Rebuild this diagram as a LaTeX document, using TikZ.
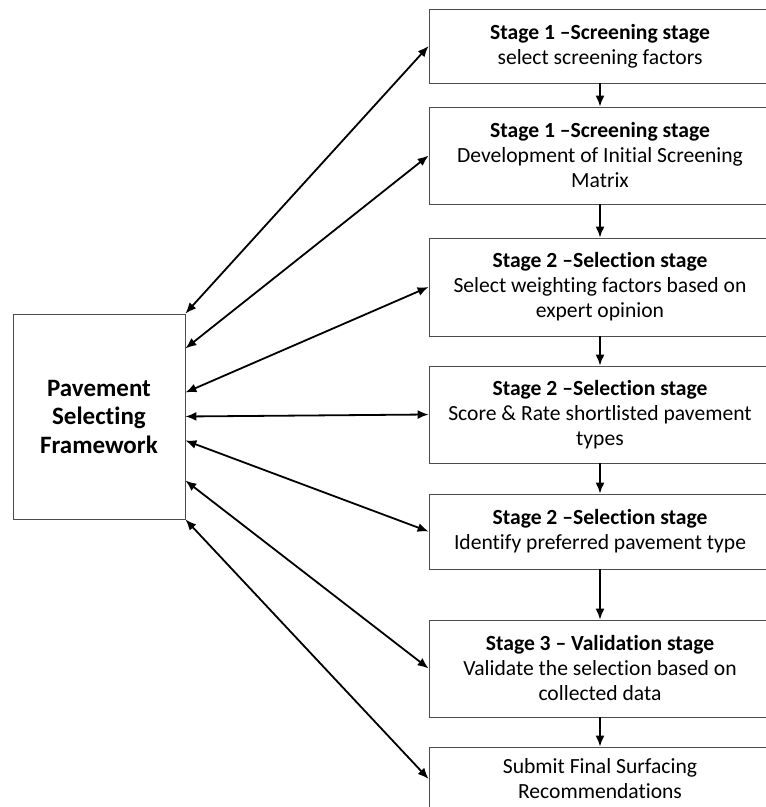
\documentclass[tikz,border=0pt]{standalone}
\usepackage{fontspec}
\setmainfont{Carlito}[Ligatures=NoCommon]
\usetikzlibrary{arrows.meta,positioning}

\begin{document}
\begin{tikzpicture}[x=1pt,y=1pt,
  every node/.style={font=\fontsize{21.6}{25}\selectfont,inner sep=0pt,align=center},
  stagebox/.style={draw=black!70,line width=0.8pt,minimum width=342pt},
  linkarrow/.style={line width=1.8pt,{Latex[length=11pt,width=9pt]}-{Latex[length=11pt,width=9pt]}},
  downarrow/.style={line width=1.8pt,-{Latex[length=11pt,width=9pt]}}]
\useasboundingbox (0,0) rectangle (766,807);
\clip (0,0) rectangle (766,807);
% stages on the right
\node[stagebox,minimum height=74pt] (s1) at (600,761) {\textbf{Stage 1 –Screening stage}\\select screening factors};
\node[stagebox,minimum height=97pt] (s2) at (600,651.5) {\textbf{Stage 1 –Screening stage}\\Development of Initial Screening\\Matrix};
\node[stagebox,minimum height=98pt] (s3) at (600,520) {\textbf{Stage 2 –Selection stage}\\Select weighting factors based on\\expert opinion};
\node[stagebox,minimum height=97pt] (s4) at (600,392.5) {\textbf{Stage 2 –Selection stage}\\Score \& Rate shortlisted pavement\\types};
\node[stagebox,minimum height=75pt] (s5) at (600,275.5) {\textbf{Stage 2 –Selection stage}\\Identify preferred pavement type};
\node[stagebox,minimum height=97pt] (s6) at (600,138.5) {\textbf{Stage 3 – Validation stage}\\Validate the selection based on\\collected data};
\node[stagebox,minimum height=64pt] (s7) at (600,28) {Submit Final Surfacing\\Recommendations};
% framework box
\node[draw=black!70,line width=0.8pt,minimum width=172pt,minimum height=205pt,
  font=\fontsize{25}{28.5}\selectfont\bfseries] (psf) at (99,390.5) {Pavement\\Selecting\\Framework};
% links
\draw[linkarrow] (psf.north east) -- (s1.west);
\draw[linkarrow] ([yshift=68pt]psf.east) -- (s2.west);
\draw[linkarrow] ([yshift=24pt]psf.east) -- (s3.west);
\draw[linkarrow] (psf.east) -- (s4.west);
\draw[linkarrow] ([yshift=-24pt]psf.east) -- (s5.west);
\draw[linkarrow] ([yshift=-64pt]psf.east) -- (s6.west);
\draw[linkarrow] (psf.south east) -- (s7.west);
\foreach \a/\b in {s1/s2,s2/s3,s3/s4,s4/s5,s5/s6,s6/s7}
  \draw[downarrow] (\a.south) -- (\b.north);
\end{tikzpicture}
\end{document}
